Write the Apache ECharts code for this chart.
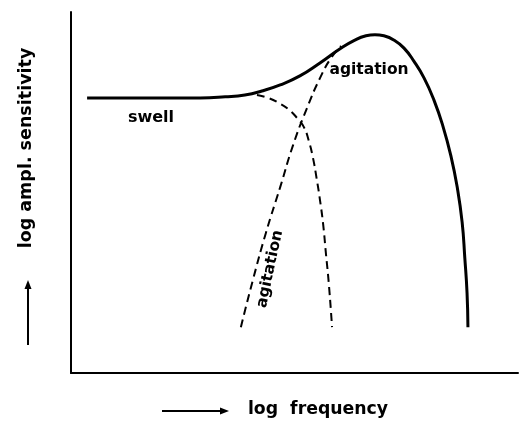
<!DOCTYPE html>
<html>
<head>
<meta charset="utf-8">
<script src="https://cdn.jsdelivr.net/npm/echarts@6/dist/echarts.min.js"></script>
<style>
  html, body { margin: 0; padding: 0; background: #fff; }
  #chart { width: 521px; height: 429px; }
</style>
</head>
<body>
<div id="chart"></div>
<script>
// log frequency (x) / log ampl. sensitivity (y), arbitrary units 0..10
const totalCurve = [
  [0.36, 7.62], [1.32, 7.62], [2.21, 7.62], [2.89, 7.62], [3.45, 7.65],
  [3.89, 7.70], [4.27, 7.81], [4.68, 7.98], [5.12, 8.23], [5.57, 8.59],
  [6.02, 8.98], [6.35, 9.22], [6.60, 9.34], [6.80, 9.37], [7.00, 9.34],
  [7.23, 9.22], [7.45, 9.00], [7.67, 8.64], [7.90, 8.17], [8.12, 7.56],
  [8.32, 6.84], [8.50, 6.01], [8.64, 5.15], [8.75, 4.18], [8.81, 3.19],
  [8.86, 2.22], [8.88, 1.27]
]
const swellCurve = [
  [4.16, 7.70], [4.41, 7.62], [4.65, 7.48], [4.88, 7.29], [5.06, 7.06],
  [5.21, 6.81], [5.32, 6.43], [5.41, 5.98], [5.50, 5.35], [5.57, 4.79],
  [5.64, 4.13], [5.70, 3.35], [5.77, 2.44], [5.84, 1.27]
]
const agitationCurve = [
  [3.80, 1.27], [4.07, 2.58], [4.36, 3.88], [4.68, 5.15], [4.97, 6.32],
  [5.28, 7.34], [5.57, 8.17], [5.82, 8.73], [6.04, 9.06]
]
const xName = 'log  frequency'
const yName = 'log ampl. sensitivity'

let dom = document.getElementById('chart')
let myChart = echarts.init(dom)
const font = '"DejaVu Sans"'

let option = {
  animation: false,
  grid: { left: 71, right: 3, top: 12, bottom: 56 },
  xAxis: {
    type: 'value', min: 0, max: 10,
    axisLine: { show: true, lineStyle: { color: '#000', width: 2 } },
    axisTick: { show: false },
    axisLabel: { show: false },
    splitLine: { show: false }
  },
  yAxis: {
    type: 'value', min: 0, max: 10,
    axisLine: { show: true, lineStyle: { color: '#000', width: 2 } },
    axisTick: { show: false },
    axisLabel: { show: false },
    splitLine: { show: false }
  },
  series: [
    {
      type: 'line', data: totalCurve, smooth: 0.5, symbol: 'none',
      lineStyle: { color: '#000', width: 3 }
    },
    {
      type: 'line', data: swellCurve, smooth: 0.5, symbol: 'none',
      lineStyle: { color: '#000', width: 2, type: [8, 5] }
    },
    {
      type: 'line', data: agitationCurve, smooth: 0.5, symbol: 'none',
      lineStyle: { color: '#000', width: 2, type: [8, 5] }
    }
  ],
  graphic: [
    { type: 'text', x: 151, y: 118, style: { text: 'swell', font: 'bold 16px ' + font, fill: '#000', align: 'center', verticalAlign: 'middle' } },
    { type: 'text', x: 369, y: 70, style: { text: 'agitation', font: 'bold 15.5px ' + font, fill: '#000', align: 'center', verticalAlign: 'middle' } },
    { type: 'text', x: 270, y: 269, rotation: 1.36, style: { text: 'agitation', font: 'bold 15.5px ' + font, fill: '#000', align: 'center', verticalAlign: 'middle' } },
    { type: 'text', x: 26, y: 148, rotation: Math.PI / 2, style: { text: yName, font: 'bold 17.5px ' + font, fill: '#000', align: 'center', verticalAlign: 'middle' } },
    { type: 'text', x: 318, y: 410, style: { text: xName, font: 'bold 17.3px ' + font, fill: '#000', align: 'center', verticalAlign: 'middle' } },
    // arrows next to the axis titles
    { type: 'line', shape: { x1: 28, y1: 345, x2: 28, y2: 286 }, style: { stroke: '#000', lineWidth: 2 } },
    { type: 'polygon', shape: { points: [[28, 280], [24.5, 289], [31.5, 289]] }, style: { fill: '#000' } },
    { type: 'line', shape: { x1: 162, y1: 411, x2: 222, y2: 411 }, style: { stroke: '#000', lineWidth: 2 } },
    { type: 'polygon', shape: { points: [[229, 411], [220, 407.5], [220, 414.5]] }, style: { fill: '#000' } }
  ]
}
myChart.setOption(option)
</script>
</body>
</html>
